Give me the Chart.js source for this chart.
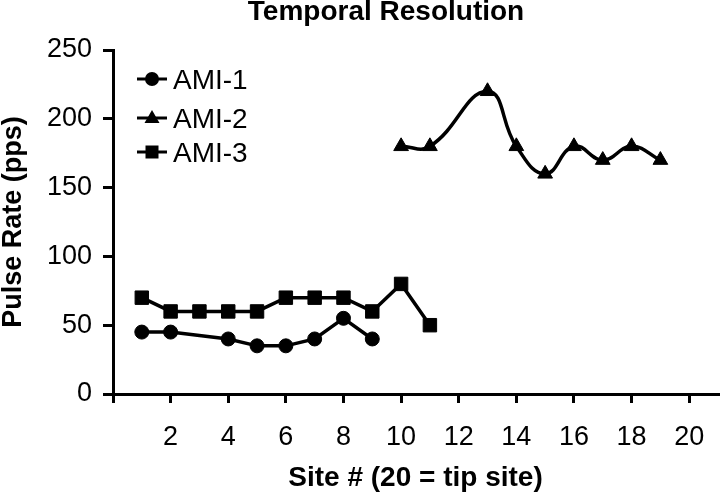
<!DOCTYPE html>
<html>
<head>
<meta charset="utf-8">
<script src="https://cdn.jsdelivr.net/npm/chart.js@4/dist/chart.umd.min.js"></script>
<style>
  html, body { margin: 0; padding: 0; background: #fff; }
  #wrap { width: 720px; height: 495px; }
</style>
</head>
<body>
<div id="wrap"><canvas id="chart" width="720" height="495"></canvas></div>
<script>
// data
const ami1Sites = [1, 2, 4, 5, 6, 7, 8, 9];
const ami1Rates = [45, 45, 40, 35, 35, 40, 55, 40];

const ami2Sites = [10, 11, 13, 14, 15, 16, 17, 18, 19];
const ami2Rates = [180, 180, 220, 180, 160, 180, 170, 180, 170];

const ami3Sites = [1, 2, 3, 4, 5, 6, 7, 8, 9, 10, 11];
const ami3Rates = [70, 60, 60, 60, 60, 70, 70, 70, 60, 80, 50];

const seriesNames = ["AMI-1", "AMI-2", "AMI-3"];
const yTicks = [0, 50, 100, 150, 200, 250];
const xTicks = [0, 2, 4, 6, 8, 10, 12, 14, 16, 18, 20];

const FONT = "'Liberation Sans', Arial, sans-serif";

function toPoints(xs, ys) {
  return xs.map((x, i) => ({ x: x, y: ys[i] }));
}

// title and in-plot legend
const extras = {
  id: "extras",
  afterDraw(chart) {
    const ctx = chart.ctx;
    ctx.save();
    ctx.fillStyle = "#000";
    ctx.font = "bold 28px " + FONT;
    ctx.textAlign = "center";
    ctx.textBaseline = "alphabetic";
    ctx.fillText("Temporal Resolution", 386, 20);

    const rows = [79, 118, 152];
    const styles = ["circle", "triangle", "rect"];
    ctx.font = "28px " + FONT;
    ctx.textAlign = "left";
    rows.forEach((y, i) => {
      ctx.strokeStyle = "#000";
      ctx.lineWidth = 3;
      ctx.beginPath();
      ctx.moveTo(137, y);
      ctx.lineTo(167, y);
      ctx.stroke();
      ctx.beginPath();
      if (styles[i] === "circle") {
        ctx.arc(152, y, 7, 0, Math.PI * 2);
      } else if (styles[i] === "triangle") {
        ctx.moveTo(152, y - 8);
        ctx.lineTo(159.5, y + 5);
        ctx.lineTo(144.5, y + 5);
        ctx.closePath();
      } else {
        ctx.rect(145.5, y - 6.5, 13, 13);
      }
      ctx.fill();
      ctx.fillText(seriesNames[i], 173, y + 10);
    });
    ctx.restore();
  }
};

const common = {
  borderColor: "#000",
  backgroundColor: "#000",
  pointBackgroundColor: "#000",
  pointBorderColor: "#000",
  borderWidth: 3.5,
  pointBorderWidth: 1,
  fill: false,
  clip: false
};

new Chart(document.getElementById("chart"), {
  type: "line",
  data: {
    datasets: [
      Object.assign({}, common, {
        label: seriesNames[0],
        data: toPoints(ami1Sites, ami1Rates),
        pointStyle: "circle",
        pointRadius: 7,
        tension: 0
      }),
      Object.assign({}, common, {
        label: seriesNames[1],
        data: toPoints(ami2Sites, ami2Rates),
        pointStyle: "triangle",
        pointRadius: 8.5,
        tension: 0.45
      }),
      Object.assign({}, common, {
        label: seriesNames[2],
        data: toPoints(ami3Sites, ami3Rates),
        pointStyle: "rect",
        pointRadius: 9.5,
        tension: 0
      })
    ]
  },
  options: {
    responsive: false,
    animation: false,
    layout: { autoPadding: false, padding: { top: 50, right: 2, left: 0, bottom: 0 } },
    plugins: {
      legend: { display: false },
      title: { display: false },
      tooltip: { enabled: false }
    },
    scales: {
      x: {
        type: "linear",
        min: 0,
        max: 21,
        afterFit: s => { s.height = 101; s.paddingRight = 0; s.paddingLeft = 0; },
        afterBuildTicks: s => { s.ticks = xTicks.map(v => ({ value: v })); },
        border: { display: true, color: "#000", width: 3 },
        grid: { display: true, drawOnChartArea: false, drawTicks: true, tickLength: 9, color: "#000", lineWidth: 3 },
        ticks: {
          color: "#000",
          padding: 18,
          maxRotation: 0,
          font: { family: FONT, size: 27 },
          callback: v => (v === 0 ? "" : v)
        },
        title: {
          display: true,
          text: "Site # (20 = tip site)",
          color: "#000",
          padding: 0,
          font: { family: FONT, size: 28, weight: "bold", lineHeight: 1.2 }
        }
      },
      y: {
        min: 0,
        max: 250,
        afterFit: s => { s.width = 113; },
        afterBuildTicks: s => { s.ticks = yTicks.map(v => ({ value: v })); },
        border: { display: true, color: "#000", width: 3 },
        grid: { display: true, drawOnChartArea: false, drawTicks: true, tickLength: 10, color: "#000", lineWidth: 3 },
        ticks: {
          color: "#000",
          padding: 11,
          font: { family: FONT, size: 27 }
        },
        title: {
          display: true,
          text: "Pulse Rate (pps)",
          color: "#000",
          padding: 0,
          font: { family: FONT, size: 27, weight: "bold", lineHeight: 1 }
        }
      }
    }
  },
  plugins: [extras]
});
</script>
</body>
</html>
